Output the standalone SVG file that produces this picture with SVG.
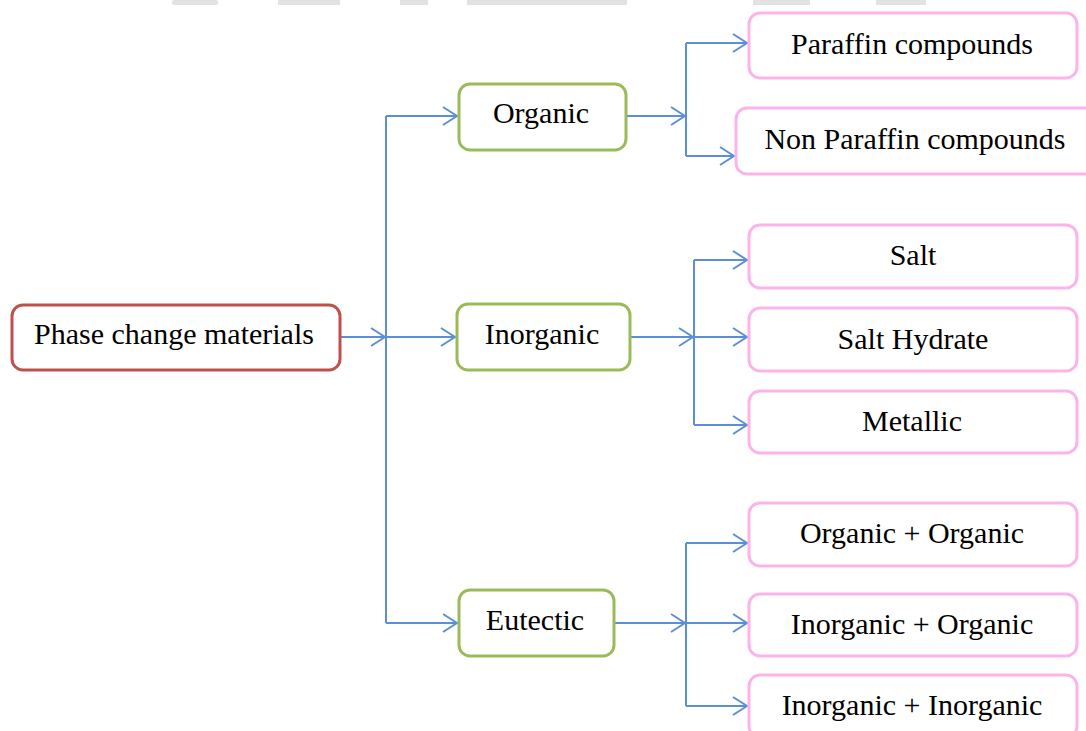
<svg xmlns="http://www.w3.org/2000/svg" width="1086" height="731" viewBox="0 0 1086 731">
<defs>
<style>
.root{fill:#fff;stroke:#c0504d;stroke-width:3}
.mid{fill:#fff;stroke:#9bbb59;stroke-width:3}
.leaf{fill:#fff;stroke:#fbb3ea;stroke-width:3}
.lbl{font-family:"Liberation Serif","Times New Roman",serif;font-size:30px;fill:#000;text-anchor:middle;dominant-baseline:central}
.c{fill:none;stroke:#5b8fd8;stroke-width:2}
.wm{fill:#e2e2e2}
</style>
<marker id="ah" markerWidth="18" markerHeight="20" refX="15" refY="10" orient="auto" markerUnits="userSpaceOnUse">
<path d="M1,1 L15,10 L1,19" fill="none" stroke="#5b8fd8" stroke-width="2"/>
</marker>
</defs>
<rect width="1086" height="731" fill="#fff"/>
<g id="watermark">
<rect class="wm" x="172" y="0" width="46" height="5" rx="2"/>
<rect class="wm" x="278" y="0" width="62" height="5"/>
<rect class="wm" x="400" y="0" width="28" height="5"/>
<rect class="wm" x="467" y="0" width="160" height="5"/>
<rect class="wm" x="753" y="0" width="57" height="5"/>
<rect class="wm" x="876" y="0" width="50" height="5"/>
</g>
<g id="connectors">
<path class="c" d="M340,337 H385" marker-end="url(#ah)"/>
<path class="c" d="M386,116 V623"/>
<path class="c" d="M386,116 H457" marker-end="url(#ah)"/>
<path class="c" d="M386,337 H455" marker-end="url(#ah)"/>
<path class="c" d="M386,623 H457" marker-end="url(#ah)"/>
<path class="c" d="M626,116 H685" marker-end="url(#ah)"/>
<path class="c" d="M686,43 V156"/>
<path class="c" d="M686,43 H747" marker-end="url(#ah)"/>
<path class="c" d="M686,156 H734" marker-end="url(#ah)"/>
<path class="c" d="M626,337 H693" marker-end="url(#ah)"/>
<path class="c" d="M694,260 V425"/>
<path class="c" d="M694,260 H747" marker-end="url(#ah)"/>
<path class="c" d="M694,337 H747" marker-end="url(#ah)"/>
<path class="c" d="M694,425 H747" marker-end="url(#ah)"/>
<path class="c" d="M614,623 H685" marker-end="url(#ah)"/>
<path class="c" d="M686,543 V706"/>
<path class="c" d="M686,543 H747" marker-end="url(#ah)"/>
<path class="c" d="M686,623 H747" marker-end="url(#ah)"/>
<path class="c" d="M686,706 H747" marker-end="url(#ah)"/>
</g>
<g id="pcm"><rect class="root" x="12" y="305" width="328" height="65" rx="11"/><text class="lbl" x="174" y="333">Phase change materials</text></g>
<g id="organic"><rect class="mid" x="459" y="84" width="167" height="66" rx="11"/><text class="lbl" x="541" y="112">Organic</text></g>
<g id="inorganic"><rect class="mid" x="457" y="304" width="173" height="66" rx="11"/><text class="lbl" x="542" y="333">Inorganic</text></g>
<g id="eutectic"><rect class="mid" x="459" y="590" width="155" height="66" rx="11"/><text class="lbl" x="535" y="619">Eutectic</text></g>
<g id="paraffin"><rect class="leaf" x="749" y="13" width="328" height="65" rx="11"/><text class="lbl" x="912" y="43">Paraffin compounds</text></g>
<g id="nonparaffin"><rect class="leaf" x="736" y="108" width="362" height="66" rx="11"/><text class="lbl" x="915" y="138">Non Paraffin compounds</text></g>
<g id="salt"><rect class="leaf" x="749" y="225" width="328" height="63" rx="11"/><text class="lbl" x="913" y="254">Salt</text></g>
<g id="salthydrate"><rect class="leaf" x="749" y="308" width="328" height="63" rx="11"/><text class="lbl" x="913" y="338">Salt Hydrate</text></g>
<g id="metallic"><rect class="leaf" x="749" y="391" width="328" height="62" rx="11"/><text class="lbl" x="912" y="420">Metallic</text></g>
<g id="orgorg"><rect class="leaf" x="749" y="503" width="328" height="63" rx="11"/><text class="lbl" x="912" y="532">Organic + Organic</text></g>
<g id="inorgorg"><rect class="leaf" x="749" y="594" width="328" height="62" rx="11"/><text class="lbl" x="912" y="623">Inorganic + Organic</text></g>
<g id="inorginorg"><rect class="leaf" x="749" y="675" width="328" height="62" rx="11"/><text class="lbl" x="912" y="704">Inorganic + Inorganic</text></g>
</svg>
